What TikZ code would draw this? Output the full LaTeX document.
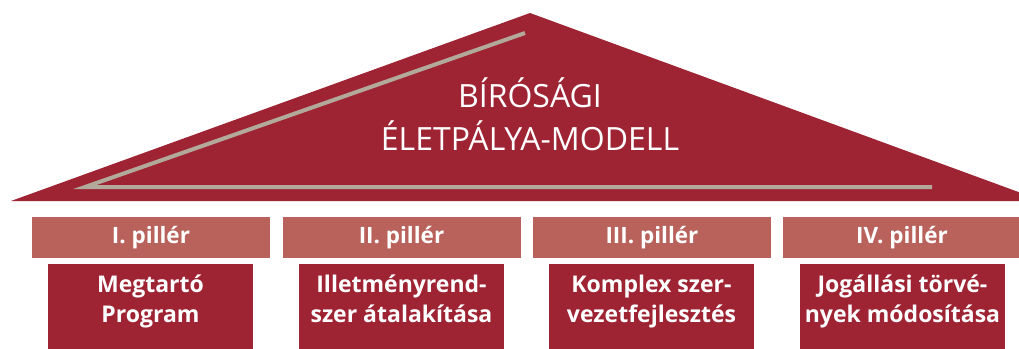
\documentclass[tikz,border=0pt]{standalone}
\usepackage{fontspec}
\setmainfont{Open Sans}
\definecolor{roofred}{HTML}{9E2333}
\definecolor{headred}{HTML}{B8625B}
\definecolor{roofgray}{HTML}{B2A99B}
\begin{document}
\begin{tikzpicture}[x=1pt,y=-1pt,
  pillarhead/.style={fill=headred,text=white,font=\bfseries\fontsize{22.5}{24}\selectfont,minimum width=238pt,minimum height=41pt,inner sep=0pt,anchor=north},
  pillarbody/.style={fill=roofred,minimum width=205pt,minimum height=85pt,inner sep=0pt,anchor=north},
  bodytext/.style={text=white,font=\bfseries\fontsize{23}{30}\selectfont,align=center,anchor=base}]
\useasboundingbox (0,0) rectangle (1019,348);
\begin{scope}
\clip (0,0) rectangle (1019,348);
\fill[roofred] (11,201) -- (530,13) -- (1043,201) -- cycle;
\end{scope}
\draw[roofgray,line width=4pt] (525,33) -- (85,187) -- (932,187);
\node[text=white,font=\fontsize{32}{43}\selectfont,align=center,anchor=base] (title) at (530,150) {BÍRÓSÁGI\\ÉLETPÁLYA-MODELL};
\node[pillarhead] (h1) at (151,217) {I. pillér};
\node[pillarhead] (h2) at (401.5,217) {II. pillér};
\node[pillarhead] (h3) at (652,217) {III. pillér};
\node[pillarhead] (h4) at (902,217) {IV. pillér};
\node[pillarbody] (b1) at (150.5,264) {};
\node[pillarbody] (b2) at (401.5,264) {};
\node[pillarbody] (b3) at (651.5,264) {};
\node[pillarbody] (b4) at (902.5,264) {};
\node[bodytext] (t1) at (150.5,322) {Megtartó\\Program};
\node[bodytext] (t2) at (401.5,322) {Illetményrend-\\szer átalakítása};
\node[bodytext] (t3) at (651.5,322) {Komplex szer-\\vezetfejlesztés};
\node[bodytext] (t4) at (902.5,322) {Jogállási törvé-\\nyek módosítása};
\end{tikzpicture}
\end{document}
